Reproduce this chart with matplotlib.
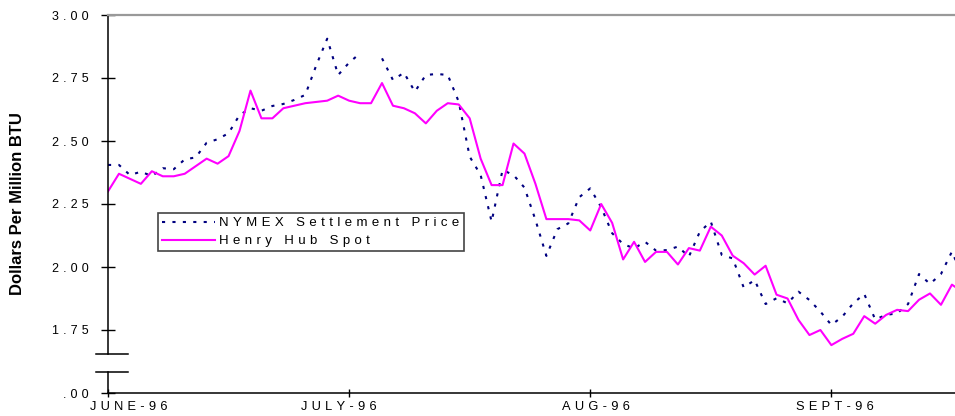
import numpy as np
import matplotlib.pyplot as plt
from matplotlib.transforms import ScaledTranslation, blended_transform_factory

plt.rcParams['font.family'] = ['Liberation Sans', 'DejaVu Sans']

# daily prices, $ per million BTU (trading days from early June 1996)
henry_hub = [2.30, 2.37, 2.35, 2.33, 2.38, 2.36, 2.36, 2.37, 2.40, 2.43,
             2.41, 2.44, 2.54, 2.70, 2.59, 2.59, 2.63, 2.64, 2.65, 2.655,
             2.66, 2.68, 2.66, 2.65, 2.65, 2.73, 2.64, 2.63, 2.61, 2.57,
             2.62, 2.65, 2.645, 2.59, 2.43, 2.325, 2.325, 2.49, 2.45, 2.33,
             2.19, 2.19, 2.19, 2.185, 2.145, 2.25, 2.175, 2.03, 2.10, 2.02,
             2.06, 2.06, 2.01, 2.075, 2.065, 2.16, 2.125, 2.045, 2.015, 1.97,
             2.005, 1.89, 1.875, 1.79, 1.73, 1.75, 1.69, 1.715, 1.735, 1.805,
             1.775, 1.81, 1.83, 1.825, 1.87, 1.895, 1.85, 1.93, 1.90]

nymex = [2.405, 2.405, 2.365, 2.378, 2.361, 2.392, 2.388, 2.427, 2.435, 2.493,
         2.507, 2.531, 2.603, 2.630, 2.620, 2.639, 2.647, 2.663, 2.683, 2.80,
         2.906, 2.762, 2.811, 2.848, np.nan, 2.828, 2.742, 2.771, 2.696, 2.762,
         2.766, 2.762, 2.656, 2.438, 2.365, 2.180, 2.385, 2.365, 2.315, 2.187,
         2.044, 2.150, 2.173, 2.277, 2.312, 2.237, 2.134, 2.091, 2.074, 2.100,
         2.065, 2.067, 2.081, 2.041, 2.140, 2.180, 2.048, 2.034, 1.919, 1.948,
         1.853, 1.876, 1.856, 1.902, 1.869, 1.823, 1.770, 1.803, 1.856, 1.893,
         1.792, 1.810, 1.816, 1.853, 1.972, 1.933, 1.972, 2.061, 1.96]

month_pos = [0, 22, 44, 66]
month_labels = ['JUNE-96', 'JULY-96', 'AUG-96', 'SEPT-96']
y_ticks = [3.00, 2.75, 2.50, 2.25, 2.00, 1.75, 1.50]
y_labels = ['3.00', '2.75', '2.50', '2.25', '2.00', '1.75', '.00']


def spaced(text, gap='\u2004'):
    # old spreadsheet charts had wide letter spacing
    return gap.join(text)


fig = plt.figure(figsize=(9.55, 4.16), dpi=100)
ax = fig.add_axes([108 / 955, 1 - 393 / 416, 847 / 955, 378 / 416])

x = np.arange(len(henry_hub))
ax.plot(x, nymex, color='#000080', lw=1.5, linestyle=(0, (1.5, 3.5)),
        label=spaced('NYMEX Settlement Price'))
ax.plot(x, henry_hub, color='#ff00ff', lw=1.5,
        label=spaced('Henry Hub Spot'))

ax.set_xlim(0, 847 / 10.96)
ax.set_ylim(1.5, 3.0)

ax.set_yticks(y_ticks)
ax.set_yticklabels([spaced(s) for s in y_labels])
ax.set_xticks(month_pos)
ax.set_xticklabels([spaced(s) for s in month_labels])
ax.tick_params(axis='y', direction='inout', length=10, width=1, pad=9, labelsize=9)
ax.tick_params(axis='x', direction='inout', length=6, width=1, pad=3, labelsize=9.3)

# nudge month labels like the original
for lbl, dx in zip(ax.get_xticklabels(), [21, -10, 6, 4]):
    lbl.set_transform(lbl.get_transform() + ScaledTranslation(dx / 100, 0, fig.dpi_scale_trans))

for side in ['left', 'right']:
    ax.spines[side].set_visible(False)
ax.spines['top'].set_color('#999999')
ax.spines['top'].set_linewidth(1.6)
ax.spines['bottom'].set_linewidth(1.1)

# broken y axis
trans = blended_transform_factory(ax.transAxes, ax.transData)
ax.plot([0, 0], [1.5, 1.583], color='black', lw=1.1, transform=trans, clip_on=False)
ax.plot([0, 0], [1.655, 3.0], color='black', lw=1.1, transform=trans, clip_on=False)
for yb in [1.655, 1.583]:
    ax.plot([-0.0142, 0.0236], [yb, yb], color='black', lw=1.1, transform=trans, clip_on=False)

leg = ax.legend(loc='upper left', bbox_to_anchor=(158 / 955, 1 - 213 / 416),
                bbox_transform=fig.transFigure, fancybox=False, edgecolor='#444444',
                framealpha=1, fontsize=9.5, handlelength=4.0, handletextpad=0.35,
                borderpad=0.3, labelspacing=0.45, borderaxespad=0)
leg.get_frame().set_linewidth(1.2)

fig.text(18 / 955, 1 - 204 / 416, 'Dollars Per Million BTU', rotation=90,
         ha='center', va='center', fontsize=12, fontweight='bold')

fig.savefig('out.png', dpi=100)
